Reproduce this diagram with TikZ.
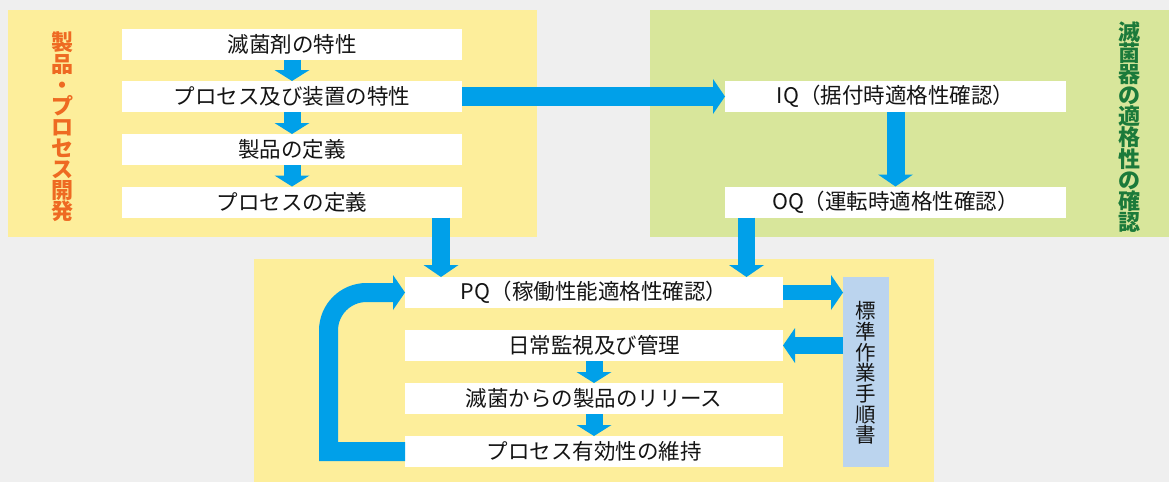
\documentclass[tikz,border=0pt]{standalone}
\usepackage{fontspec}
\setmainfont{Noto Sans CJK JP}
\usetikzlibrary{arrows.meta,calc}
\definecolor{bg}{HTML}{EFEFEF}
\definecolor{pyellow}{HTML}{FDEE9B}
\definecolor{pgreen}{HTML}{D8E69B}
\definecolor{ablue}{HTML}{00A0E9}
\definecolor{sopblue}{HTML}{BBD4EE}
\definecolor{lorange}{HTML}{EE6A22}
\definecolor{lgreen}{HTML}{1B7A3A}
\lineskiplimit=-100pt
\begin{document}
\begin{tikzpicture}[x=1pt,y=-1pt,
  box/.style={fill=white, minimum height=31pt, inner sep=0pt, outer sep=0pt,
    font=\fontsize{21.5}{24}\selectfont, text=black!92},
  flow/.style={draw=ablue, line width=18pt,
    -{Triangle[width=35pt,length=12pt,line width=0pt]}},
  shortflow/.style={flow, line width=17pt,
    -{Triangle[width=35pt,length=11pt,line width=0pt]}},
  vlabel/.style={align=center, inner sep=0pt,
    font=\fontsize{22}{21.1}\selectfont\bfseries}
]
\lineskiplimit=-100pt
\useasboundingbox (0,0) rectangle (1169,482);
\fill[bg] (0,0) rectangle (1169,482);

% panels
\fill[pyellow] (8,10) rectangle (537,237);
\fill[pgreen] (650,10) rectangle (1169,237);
\fill[pyellow] (254,259) rectangle (934,482);

% left column
\node[box, minimum width=340pt] (b1) at (292,44) {滅菌剤の特性};
\node[box, minimum width=340pt] (b2) at (292,96.5) {プロセス及び装置の特性};
\node[box, minimum width=340pt] (b3) at (292,149.5) {製品の定義};
\node[box, minimum width=340pt] (b4) at (292,202) {プロセスの定義};

% right column
\node[box, minimum width=341pt] (iq) at (895.5,96.5) {IQ（据付時適格性確認）};
\node[box, minimum width=341pt] (oq) at (895.5,202) {OQ（運転時適格性確認）};

% bottom
\node[box, minimum width=378pt] (pq) at (594,292.5) {PQ（稼働性能適格性確認）};
\node[box, minimum width=378pt] (m1) at (594,345.5) {日常監視及び管理};
\node[box, minimum width=378pt] (m2) at (594,398.5) {滅菌からの製品のリリース};
\node[box, minimum width=378pt] (m3) at (594,451.5) {プロセス有効性の維持};

\node[fill=sopblue, minimum width=46pt, minimum height=190pt, inner sep=0pt, outer sep=0pt] (sop) at (866,372) {};
\node[vlabel, font=\fontsize{20.5}{20.7}\selectfont, text=black!92] (soptext) at (866,373) {標\\準\\作\\業\\手\\順\\書};

% vertical labels
\node[vlabel, text=lorange] (lab1) at (62.5,127) {製\\品\\・\\プ\\ロ\\セ\\ス\\開\\発};
\node[vlabel, text=lgreen] (lab2) at (1129,127) {滅\\菌\\器\\の\\適\\格\\性\\の\\確\\認};

% arrows
\draw[shortflow] (b1.south) -- (b2.north);
\draw[shortflow] (b2.south) -- (b3.north);
\draw[shortflow] (b3.south) -- (b4.north);
\draw[flow, line width=19pt] (b2.east) -- (iq.west);
\draw[flow] (iq.south) -- (oq.north);

\coordinate (c1) at (441,0);
\coordinate (c2) at (746.5,0);
\draw[flow] (b4.south -| c1) -- (pq.north -| c1);
\draw[flow, line width=17pt] (oq.south -| c2) -- (pq.north -| c2);

\draw[flow, line width=15pt] (pq.east) -- (pq.east -| sop.west);
\draw[flow, line width=17pt] (m1.east -| sop.west) -- (m1.east);

\draw[shortflow] (m1.south) -- (m2.north);
\draw[shortflow] (m2.south) -- (m3.north);

\coordinate (lx) at (328.5,0);
\draw[flow, line width=19pt] (m3.west) -- (m3.west -| lx)
  -- ($(pq.west -| lx)+(0,38)$)
  .. controls ($(pq.west -| lx)+(0,17)$) and ($(pq.west -| lx)+(17,0)$) .. ($(pq.west -| lx)+(38,0)$)
  -- (pq.west);
\end{tikzpicture}
\end{document}
